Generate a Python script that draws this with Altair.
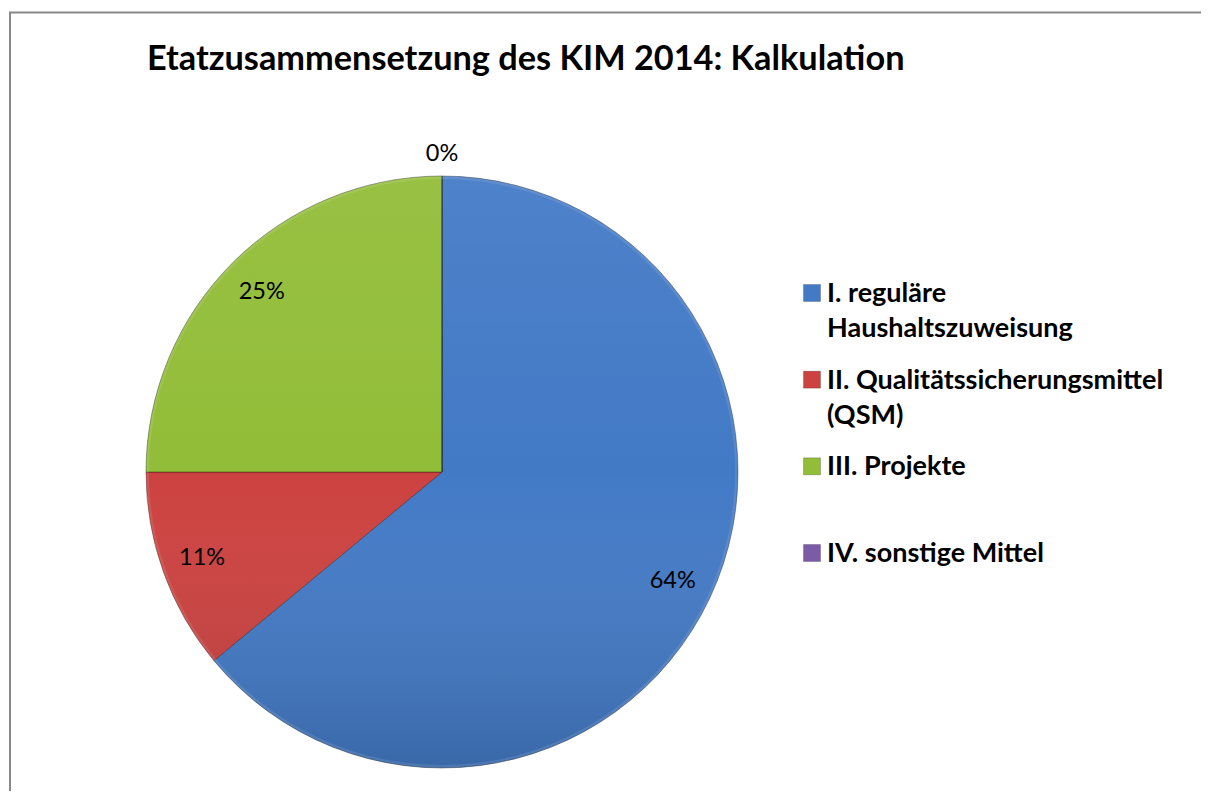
import altair as alt
import pandas as pd

title_text = "Etatzusammensetzung des KIM 2014: Kalkulation"
categories = [
    "I. reguläre\nHaushaltszuweisung",
    "II. Qualitätssicherungsmittel\n(QSM)",
    "III. Projekte",
    "IV. sonstige Mittel",
]
shares = [0.64, 0.11, 0.25, 0.0]
order_idx = [0, 1, 2, 3]
colors = ["#437ac6", "#cc4240", "#92bd38", "#7b5ba5"]

df = pd.DataFrame({"cat": categories, "value": shares, "idx": order_idx})

CX, CY, R = 434, 464, 296
FONT = "Lato"

color_scale = alt.Scale(domain=categories, range=colors)

base = alt.Chart(df)

pie = base.mark_arc(radius=R, stroke="#1a1a1a", strokeOpacity=0.4, strokeWidth=1).encode(
    theta=alt.Theta("value:Q", stack=True),
    color=alt.Color("cat:N", scale=color_scale, legend=None),
    order=alt.Order("idx:Q"),
    x=alt.value(CX),
    y=alt.value(CY),
)

shade = alt.Gradient(
    gradient="linear",
    x1=0, y1=0, x2=0, y2=1,
    stops=[
        alt.GradientStop(offset=0, color="rgba(255,255,255,0.06)"),
        alt.GradientStop(offset=0.5, color="rgba(255,255,255,0)"),
        alt.GradientStop(offset=1, color="rgba(0,0,0,0.15)"),
    ],
)
overlay = alt.Chart(pd.DataFrame({"a": [0]})).mark_arc(
    theta=0, theta2=6.2832, radius=R, fill=shade
).encode(x=alt.value(CX), y=alt.value(CY))

rim = alt.Chart(pd.DataFrame({"a": [0]})).mark_arc(
    theta=0, theta2=6.2832, radius=R, radius2=R - 3, fill="rgba(255,255,255,0.10)"
).encode(x=alt.value(CX), y=alt.value(CY))

labels = base.transform_calculate(
    lr="datum.value > 0 ? 255 : 318"
).mark_text(font=FONT, fontSize=23.5, color="#000000").encode(
    theta=alt.Theta("value:Q", stack=True),
    order=alt.Order("idx:Q"),
    radius=alt.Radius("lr:Q", scale=None),
    text=alt.Text("value:Q", format=".0%"),
    x=alt.value(CX),
    y=alt.value(CY),
)

leg_y = alt.Y(
    "cat:N",
    scale=alt.Scale(type="point", domain=categories, range=[285, 545], padding=0),
    axis=None,
)

leg_sym = base.mark_square(size=289, opacity=1, stroke="#000000", strokeOpacity=0.2, strokeWidth=1).encode(
    x=alt.value(804),
    y=leg_y,
    color=alt.Color("cat:N", scale=color_scale, legend=None),
)

leg_txt = base.mark_text(
    font=FONT, fontSize=27, fontWeight="bold", align="left", baseline="alphabetic",
    dy=9, lineBreak="\n", lineHeight=35, color="#000000",
).encode(
    x=alt.value(819),
    y=leg_y,
    text="cat:N",
)

title = alt.Chart(pd.DataFrame({"a": [0]})).mark_text(
    text=title_text, font=FONT, fontSize=34.3, fontWeight="bold", align="left",
    baseline="alphabetic", color="#000000",
).encode(x=alt.value(139), y=alt.value(62))

border_left = alt.Chart(pd.DataFrame({"a": [0]})).mark_rule(color="#888888", strokeWidth=2).encode(
    x=alt.value(2), y=alt.value(4.5), y2=alt.value(900)
)
border_top = alt.Chart(pd.DataFrame({"a": [0]})).mark_rule(color="#888888", strokeWidth=2).encode(
    x=alt.value(1), x2=alt.value(1400), y=alt.value(4.5)
)

chart = alt.layer(
    border_left, border_top, pie, overlay, rim, labels, leg_sym, leg_txt, title
).properties(
    width=1193, height=783, padding=0, autosize=alt.AutoSizeParams(type="none")
).configure_view(stroke=None)

chart.save("out.html", embed_options={"renderer": "svg", "actions": False})
